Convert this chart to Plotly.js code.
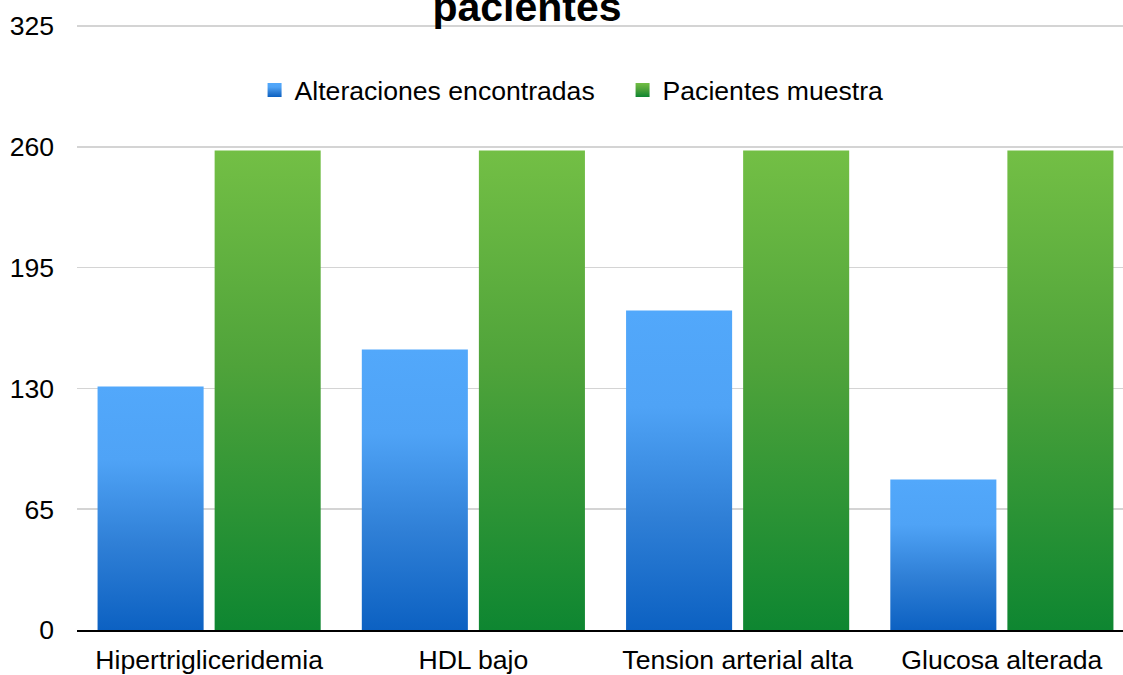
<!DOCTYPE html>
<html>
<head>
<meta charset="utf-8">
<script src="https://cdn.plot.ly/plotly-3.0.1.min.js"></script>
<style>
  html, body { margin: 0; padding: 0; background: #ffffff; overflow: hidden; }
  #chart { width: 1134px; height: 675px; }
</style>
</head>
<body>
<div id="chart"></div>
<script>
// Categories and series values
const categories = ['Hipertrigliceridemia', 'HDL bajo', 'Tension arterial alta', 'Glucosa alterada'];
const alteraciones = [131, 151, 172, 81];
const pacientesMuestra = [258, 258, 258, 258];
const yTicks = [0, 65, 130, 195, 260, 325];
const seriesNames = ['Alteraciones encontradas', 'Pacientes muestra'];
const titleText = 'pacientes';

const FONT = 'Liberation Sans, Arial, sans-serif';
const FS = 26.6;

const traces = [
  {
    type: 'bar', name: seriesNames[0], x: categories, y: alteraciones,
    marker: { color: '#3b8ae0', line: { width: 0 } }, hoverinfo: 'x+y'
  },
  {
    type: 'bar', name: seriesNames[1], x: categories, y: pacientesMuestra,
    marker: { color: '#3f9c3a', line: { width: 0 } }, hoverinfo: 'x+y'
  }
];

const layout = {
  width: 1134, height: 675,
  margin: { l: 77, r: 0, t: 25, b: 45, pad: 0, autoexpand: false },
  paper_bgcolor: '#ffffff', plot_bgcolor: '#ffffff',
  font: { family: FONT, size: FS, color: '#000000' },
  barmode: 'group', bargap: 0.114, bargroupgap: 0.094,
  title: {
    text: '<b>' + titleText + '</b>',
    font: { family: FONT, size: 41, color: '#000000' },
    xref: 'container', yref: 'container', automargin: false,
    x: 0.4647, xanchor: 'center', y: 0.9905, yanchor: 'middle'
  },
  showlegend: true,
  legend: {
    orientation: 'h', xref: 'paper', yref: 'paper',
    x: 0.168, xanchor: 'left', y: 0.8924, yanchor: 'middle',
    font: { family: FONT, size: FS, color: '#000000' },
    bgcolor: 'rgba(0,0,0,0)', borderwidth: 0,
    entrywidth: 323, entrywidthmode: 'pixels', traceorder: 'normal'
  },
  xaxis: {
    type: 'category', range: [-0.5, 3.5], showgrid: false,
    showline: true, linecolor: '#000000', linewidth: 2,
    ticks: '', ticklabelstandoff: 5,
    tickfont: { family: FONT, size: FS, color: '#000000' },
    fixedrange: true, zeroline: false, automargin: false
  },
  yaxis: {
    range: [0, 325.6], tickvals: yTicks, ticktext: yTicks.map(String),
    showgrid: true, gridcolor: '#d4d4d4', gridwidth: 1.5,
    showline: false, zeroline: false, ticks: '',
    ticklabelstandoff: 22, automargin: false,
    tickfont: { family: FONT, size: FS, color: '#000000' },
    fixedrange: true
  }
};

// Vertical gradients applied to each bar and legend swatch
const gradients = {
  gradBlue: [[0, '#52a8fb'], [0.3, '#4fa3f6'], [0.65, '#2f7fd6'], [1, '#0c61c2']],
  gradGreen: [[0, '#73bf45'], [0.45, '#4fa33a'], [1, '#0e8631']]
};

function addGradients(gd) {
  const svgNS = 'http://www.w3.org/2000/svg';
  const svg = gd.querySelector('svg.main-svg');
  let defs = svg.querySelector('defs');
  if (!defs) { defs = document.createElementNS(svgNS, 'defs'); svg.insertBefore(defs, svg.firstChild); }
  Object.keys(gradients).forEach(function (id) {
    const g = document.createElementNS(svgNS, 'linearGradient');
    g.setAttribute('id', id);
    g.setAttribute('x1', '0'); g.setAttribute('y1', '0');
    g.setAttribute('x2', '0'); g.setAttribute('y2', '1');
    gradients[id].forEach(function (s) {
      const stop = document.createElementNS(svgNS, 'stop');
      stop.setAttribute('offset', s[0]);
      stop.setAttribute('stop-color', s[1]);
      g.appendChild(stop);
    });
    defs.appendChild(g);
  });
  const ids = ['gradBlue', 'gradGreen'];
  gd.querySelectorAll('.barlayer .trace').forEach(function (tr, i) {
    tr.querySelectorAll('path').forEach(function (p) { p.style.fill = 'url(#' + ids[i] + ')'; });
  });
  gd.querySelectorAll('.legend .traces').forEach(function (tr, i) {
    tr.querySelectorAll('.legendpoints path').forEach(function (p) {
      p.style.fill = 'url(#' + ids[i] + ')';
      p.setAttribute('d', 'M7,7H-7V-7H7Z');
    });
  });
}

Plotly.newPlot('chart', traces, layout, { displayModeBar: false, staticPlot: true })
  .then(addGradients);
</script>
</body>
</html>
